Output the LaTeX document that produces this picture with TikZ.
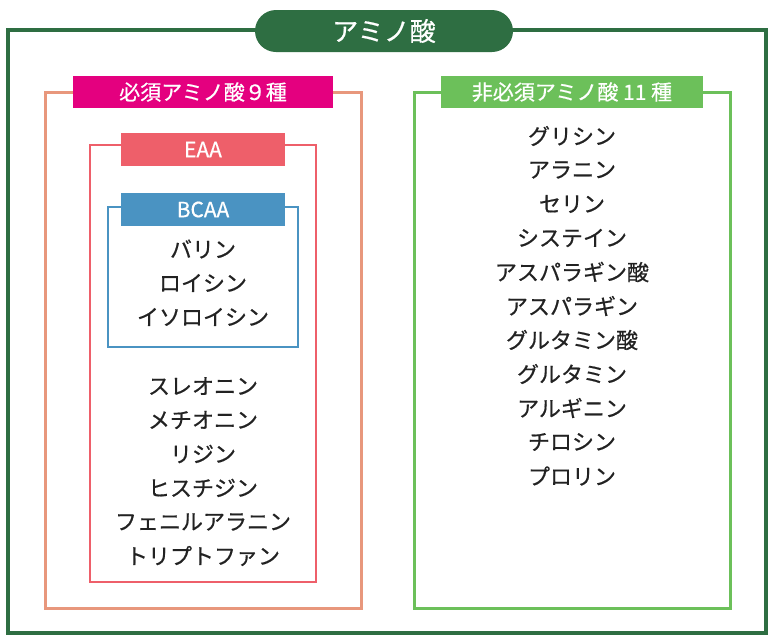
\documentclass[tikz,border=0pt]{standalone}
\usepackage{fontspec}
\setmainfont{Noto Sans CJK JP}[FakeBold=0.6]
\definecolor{dg}{HTML}{2E6E42}
\definecolor{sal}{HTML}{E8977C}
\definecolor{mag}{HTML}{E4007F}
\definecolor{pk}{HTML}{EE5F6A}
\definecolor{bl}{HTML}{4A93C2}
\definecolor{gr}{HTML}{6CC05A}
\definecolor{tx}{HTML}{222222}
\begin{document}
\begin{tikzpicture}[x=1pt,y=-1pt,
  lab/.style={text=white,font=\fontsize{21}{22}\selectfont,inner sep=0pt},
  item/.style={text=tx,font=\fontsize{22}{24}\selectfont,inner sep=0pt}]
\useasboundingbox (0,0) rectangle (774,641);
\draw[dg,line width=4] (8,30) rectangle (766,633);
\node[fill=dg,rounded corners=21pt,minimum width=258pt,minimum height=42pt,text=white,font=\fontsize{26}{28}\selectfont] (t) at (384,31) {アミノ酸};
\draw[sal,line width=3] (45,92) rectangle (361,608);
\node[fill=mag,minimum width=260pt,minimum height=32pt,lab] (l1) at (203,92) {必須アミノ酸９種};
\draw[pk,line width=1.5] (90,145) rectangle (316,582);
\node[fill=pk,minimum width=164pt,minimum height=33pt,lab] (l2) at (203,149.5) {EAA};
\draw[bl,line width=1.5] (108,207) rectangle (298,347);
\node[fill=bl,minimum width=164pt,minimum height=33pt,lab] (l3) at (203,209.5) {BCAA};
\foreach \t [count=\i] in {バリン,ロイシン,イソロイシン}
  \node[item] (b\i) at (203,249+34*\i-34) {\t};
\foreach \t [count=\i] in {スレオニン,メチオニン,リジン,ヒスチジン,フェニルアラニン,トリプトファン}
  \node[item] (e\i) at (203,386+34*\i-34) {\t};
\draw[gr,line width=3] (414,92) rectangle (730,608);
\node[fill=gr,minimum width=262pt,minimum height=32pt,lab] (l4) at (572,92) {非必須アミノ酸 11 種};
\foreach \t [count=\i] in {グリシン,アラニン,セリン,システイン,アスパラギン酸,アスパラギン,グルタミン酸,グルタミン,アルギニン,チロシン,プロリン}
  \node[item] (n\i) at (572,136+34*\i-34) {\t};
\end{tikzpicture}
\end{document}
